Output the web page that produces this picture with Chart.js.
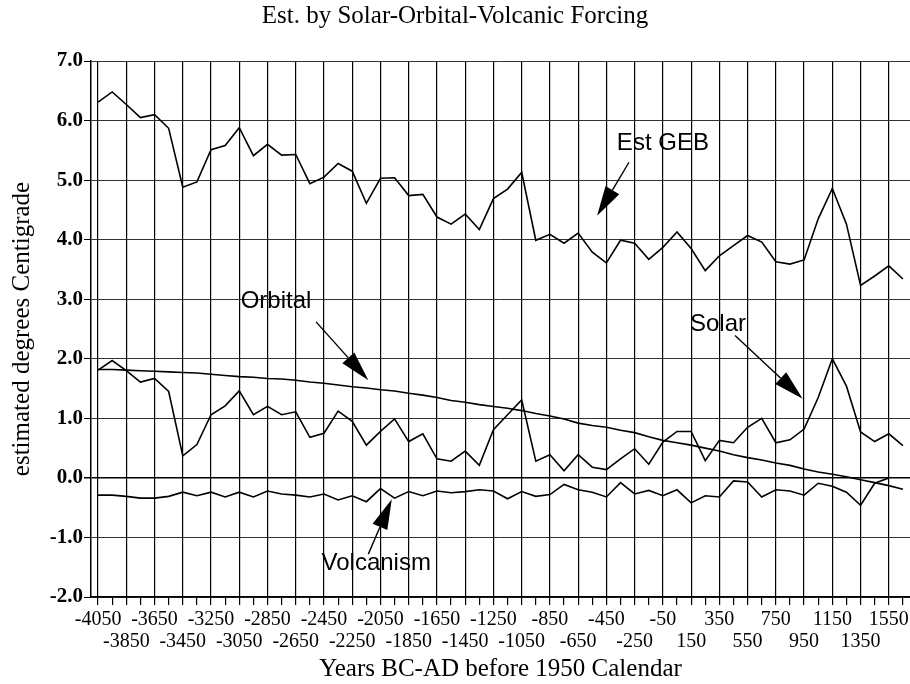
<!DOCTYPE html>
<html lang="en">
<head>
  <meta charset="UTF-8" />
  <title>Est. by Solar-Orbital-Volcanic Forcing</title>
  <script src="https://cdn.jsdelivr.net/npm/chart.js"></script>
  <style>
    html, body { margin: 0; padding: 0; background: #fff; }
    #wrap { width: 910px; height: 684px; position: relative; }
  </style>
</head>
<body>
  <div id="wrap"><canvas id="forcingChart"></canvas></div>

  <script>
    // years BC-AD (every 100 yr)
    const years = [-4050, -3950, -3850, -3750, -3650, -3550, -3450, -3350, -3250, -3150,
      -3050, -2950, -2850, -2750, -2650, -2550, -2450, -2350, -2250, -2150,
      -2050, -1950, -1850, -1750, -1650, -1550, -1450, -1350, -1250, -1150,
      -1050, -950, -850, -750, -650, -550, -450, -350, -250, -150,
      -50, 50, 150, 250, 350, 450, 550, 650, 750, 850,
      950, 1050, 1150, 1250, 1350, 1450, 1550, 1650];

    const estGEB = [6.31, 6.48, 6.27, 6.05, 6.10, 5.87, 4.88, 4.97, 5.51, 5.58,
      5.88, 5.41, 5.60, 5.42, 5.43, 4.94, 5.05, 5.28, 5.15, 4.61,
      5.03, 5.04, 4.74, 4.76, 4.38, 4.26, 4.43, 4.17, 4.69, 4.85,
      5.13, 3.99, 4.09, 3.94, 4.11, 3.79, 3.61, 3.99, 3.94, 3.67,
      3.87, 4.13, 3.85, 3.48, 3.73, 3.90, 4.07, 3.96, 3.63, 3.59,
      3.66, 4.35, 4.86, 4.26, 3.23, 3.39, 3.56, 3.34];

    const solar = [1.81, 1.97, 1.80, 1.61, 1.67, 1.45, 0.37, 0.56, 1.06, 1.21,
      1.46, 1.06, 1.20, 1.06, 1.11, 0.68, 0.75, 1.12, 0.95, 0.55,
      0.78, 0.99, 0.61, 0.74, 0.32, 0.28, 0.45, 0.21, 0.81, 1.06,
      1.31, 0.28, 0.39, 0.12, 0.39, 0.18, 0.14, 0.32, 0.49, 0.23,
      0.60, 0.78, 0.78, 0.29, 0.63, 0.59, 0.85, 1.00, 0.59, 0.64,
      0.82, 1.35, 2.00, 1.54, 0.77, 0.61, 0.74, 0.54];

    const orbital = [1.82, 1.82, 1.81, 1.80, 1.79, 1.78, 1.77, 1.76, 1.74, 1.72,
      1.70, 1.69, 1.67, 1.66, 1.64, 1.61, 1.59, 1.56, 1.53, 1.51,
      1.48, 1.46, 1.42, 1.39, 1.35, 1.30, 1.27, 1.23, 1.20, 1.17,
      1.13, 1.08, 1.04, 0.99, 0.92, 0.88, 0.85, 0.80, 0.76, 0.69,
      0.63, 0.59, 0.55, 0.50, 0.45, 0.39, 0.34, 0.30, 0.25, 0.21,
      0.15, 0.10, 0.06, 0.02, -0.03, -0.08, -0.13, -0.19];

    const volcanism = [-0.29, -0.29, -0.31, -0.34, -0.34, -0.31, -0.24, -0.30, -0.24, -0.32,
      -0.24, -0.32, -0.22, -0.27, -0.29, -0.32, -0.27, -0.37, -0.30, -0.40,
      -0.18, -0.34, -0.23, -0.30, -0.22, -0.25, -0.23, -0.20, -0.22, -0.35,
      -0.23, -0.31, -0.28, -0.11, -0.20, -0.24, -0.32, -0.08, -0.27, -0.21,
      -0.30, -0.20, -0.42, -0.30, -0.32, -0.05, -0.07, -0.32, -0.20, -0.22,
      -0.29, -0.09, -0.14, -0.24, -0.46, -0.09, 0.00, null];

    // text labels with arrows: [year, value]
    const notes = [
      { text: 'Est GEB',   at: [-50, 5.62],   from: [-290, 5.30],  to: [-516, 4.40] },
      { text: 'Orbital',   at: [-2790, 2.97], from: [-2506, 2.62], to: [-2136, 1.64] },
      { text: 'Solar',     at: [340, 2.58],   from: [461, 2.39],   to: [940, 1.33] },
      { text: 'Volcanism', at: [-2080, -1.43], from: [-2136, -1.28], to: [-1970, -0.36] }
    ];

    const serif = '"Liberation Serif", "Times New Roman", serif';
    Chart.defaults.color = '#000';

    const arrowNotes = {
      id: 'arrowNotes',
      afterDatasetsDraw(chart) {
        const { ctx, scales: { x, y } } = chart;
        const px = yr => x.getPixelForValue((yr - years[0]) / 100);
        ctx.save();
        ctx.fillStyle = '#000';
        ctx.strokeStyle = '#000';
        ctx.lineWidth = 1.4;
        ctx.font = '24px "Liberation Sans", Arial, sans-serif';
        ctx.textAlign = 'center';
        ctx.textBaseline = 'middle';
        notes.forEach(n => {
          ctx.fillText(n.text, px(n.at[0]), y.getPixelForValue(n.at[1]));
          const x1 = px(n.from[0]), y1 = y.getPixelForValue(n.from[1]);
          const x2 = px(n.to[0]), y2 = y.getPixelForValue(n.to[1]);
          const a = Math.atan2(y2 - y1, x2 - x1);
          const len = 30, hw = 8;
          const bx = x2 - len * Math.cos(a), by = y2 - len * Math.sin(a);
          ctx.beginPath();
          ctx.moveTo(x1, y1);
          ctx.lineTo(bx, by);
          ctx.stroke();
          ctx.beginPath();
          ctx.moveTo(x2, y2);
          ctx.lineTo(bx + hw * Math.sin(a), by - hw * Math.cos(a));
          ctx.lineTo(bx - hw * Math.sin(a), by + hw * Math.cos(a));
          ctx.closePath();
          ctx.fill();
        });
        ctx.restore();
      }
    };

    const line = data => ({
      data, borderColor: '#000', borderWidth: 1.6, pointRadius: 0, tension: 0, fill: false
    });

    new Chart(document.getElementById('forcingChart'), {
      type: 'line',
      data: {
        labels: years,
        datasets: [line(estGEB), line(solar), line(orbital), line(volcanism)]
      },
      options: {
        responsive: true,
        maintainAspectRatio: false,
        animation: false,
        layout: { padding: 0 },
        plugins: {
          legend: { display: false },
          tooltip: { enabled: false },
          title: {
            display: true,
            text: 'Est. by Solar-Orbital-Volcanic Forcing',
            font: { family: serif, size: 25, weight: 'normal' },
            padding: { top: 1, bottom: 30 }
          }
        },
        scales: {
          x: {
            type: 'category',
            offset: true,
            afterFit: s => { s.height = 87; },
            grid: {
              offset: false,
              color: c => c.index % 2 === 0 ? '#000' : 'rgba(0,0,0,0)',
              lineWidth: 1.2,
              tickColor: '#000',
              tickLength: 8
            },
            border: { color: '#000', width: 1.5 },
            ticks: {
              autoSkip: false,
              maxRotation: 0,
              padding: 4,
              font: { family: serif, size: 20, lineHeight: 1.1 },
              callback: function (v, i) {
                const lab = String(this.getLabelForValue(v));
                if (i % 4 === 0) return lab;
                if (i % 4 === 2) return ['', lab];
                return '';
              }
            },
            title: {
              display: true,
              text: 'Years BC-AD before 1950 Calendar',
              font: { family: serif, size: 25 },
              padding: { top: 0, bottom: 0 }
            }
          },
          y: {
            min: -2,
            max: 7,
            afterFit: s => { s.width = 91; },
            grid: {
              color: c => c.tick.value === 0 ? '#000' : '#333',
              lineWidth: c => c.tick.value === 0 ? 1.5 : 1,
              tickColor: '#000',
              tickLength: 7
            },
            border: { color: '#000', width: 1.5 },
            ticks: {
              stepSize: 1,
              padding: 1,
              font: { family: serif, size: 21, weight: 'bold' },
              callback: v => v.toFixed(1)
            },
            title: {
              display: true,
              text: 'estimated degrees Centigrade',
              font: { family: serif, size: 25 },
              padding: { top: 7, bottom: 0 }
            }
          }
        }
      },
      plugins: [arrowNotes]
    });
  </script>
</body>
</html>
